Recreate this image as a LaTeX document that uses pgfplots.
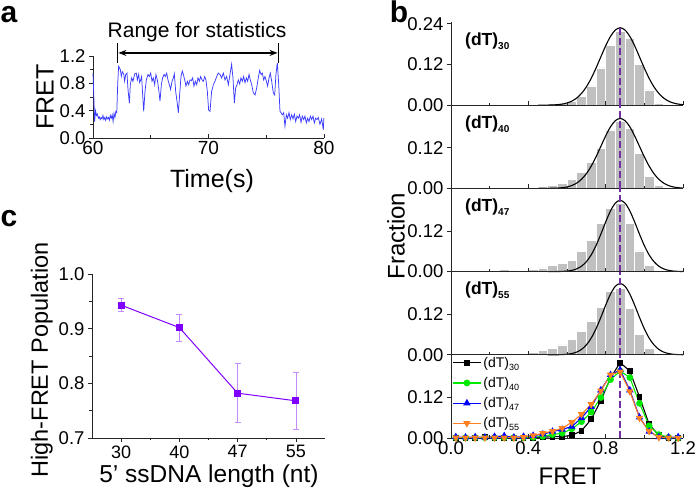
\documentclass[border=0pt]{standalone}
\usepackage{fontspec}
\setmainfont{Liberation Sans}
\usepackage{pgfplots}
\pgfplotsset{compat=1.18}
\usetikzlibrary{arrows.meta}
\definecolor{trace}{RGB}{60,60,255}
\definecolor{vio}{RGB}{128,0,255}
\definecolor{viol}{RGB}{195,140,255}
\definecolor{dashc}{RGB}{112,48,160}
\definecolor{histc}{RGB}{192,192,192}
\definecolor{grc}{RGB}{0,235,0}
\definecolor{blc}{RGB}{0,0,255}
\definecolor{orc}{RGB}{255,128,32}
\tikzset{plab/.style={anchor=base west, font=\fontsize{17.5}{18}\selectfont\bfseries}}
\pgfplotsset{
  base/.style={scale only axis, axis x line*=bottom, axis y line*=left,
    axis line style={-, line width=0.8pt, black!85},
    every tick/.style={black!85, line width=0.6pt},
    major tick length=4pt, minor tick length=2.5pt,
    /pgf/number format/assume math mode=true, clip=false},
  bpanel/.style={base, axis on top, width=232pt, height=83.2pt, xmin=0, xmax=1.2, ymin=0, ymax=0.245,
    xtick={0,0.4,0.8,1.2}, minor xtick={0.2,0.6,1.0}, ytick={0,0.12},
    xtick align=inside, ytick align=outside,
    yticklabel style={font=\fontsize{18.5}{18.5}\selectfont, /pgf/number format/fixed, /pgf/number format/fixed zerofill, /pgf/number format/precision=2},
    xticklabel style={font=\fontsize{18.5}{18.5}\selectfont, /pgf/number format/fixed, /pgf/number format/fixed zerofill, /pgf/number format/precision=1}},
  hbar/.style={ybar, bar width=0.05, fill=histc, draw=white, line width=0.6pt},
  gfit/.style={black, line width=1.1pt, smooth},
  dline/.style={dashc, line width=2.3pt, dash pattern=on 7pt off 3pt, forget plot},
}
\newcommand{\dT}[1]{(dT)\raisebox{-4pt}{\fontsize{10}{10}\selectfont #1}}
\newcommand{\dTl}[1]{(dT)\raisebox{-3pt}{\fontsize{9}{9}\selectfont #1}}
\begin{document}
\begin{tikzpicture}[x=1pt,y=1pt]
\useasboundingbox (0,0) rectangle (697,493);
% ---------------- panel a
\begin{axis}[base, at={(93pt,355pt)}, anchor=south west, width=231pt, height=82pt,
  xmin=60, xmax=80, ymin=0, ymax=1.2,
  xtick={60,70,80}, minor xtick={65,75}, ytick={0,0.4,0.8,1.2}, minor ytick={0.2,0.6,1.0},
  xtick align=inside, ytick align=outside,
  yticklabel style={font=\fontsize{18.5}{18.5}\selectfont, /pgf/number format/fixed, /pgf/number format/fixed zerofill, /pgf/number format/precision=1},
  xticklabel style={font=\fontsize{19}{19}\selectfont},
  xlabel={Time(s)}, ylabel={FRET},
  xlabel style={at={(axis description cs:0.515,-0.53)}, anchor=center, font=\fontsize{25}{25}\selectfont},
  ylabel style={at={(axis description cs:-0.208,0.5)}, anchor=center, font=\fontsize{25}{25}\selectfont},
]
\addplot[trace, line width=0.75pt] coordinates {
(60.00,0.95)(60.07,0.62)(60.14,0.24)(60.22,0.40)(60.30,0.33)(60.38,0.35)(60.46,0.29)(60.54,0.31)(60.62,0.27)(60.70,0.30)
(60.78,0.28)(60.86,0.33)(60.94,0.27)(61.02,0.30)(61.10,0.26)(61.18,0.31)(61.26,0.28)(61.34,0.30)(61.42,0.26)(61.50,0.33)
(61.58,0.29)(61.66,0.34)(61.74,0.24)(61.82,0.36)(61.90,0.30)(61.98,0.39)(62.06,0.37)(62.14,0.80)(62.22,1.05)
(62.37,1.00)(62.45,0.90)(62.54,0.97)(62.66,0.94)(62.74,0.83)(62.83,0.93)(62.94,0.95)(63.03,0.71)(63.15,0.51)(63.23,0.78)
(63.35,0.88)(63.46,0.83)(63.61,0.94)(63.75,0.95)(63.84,0.85)(63.95,0.93)(64.04,0.81)(64.13,0.85)(64.21,0.90)(64.30,0.63)
(64.39,0.39)(64.50,0.68)(64.62,0.85)(64.76,0.93)(64.88,0.90)(64.99,0.95)(65.11,0.83)(65.22,0.88)(65.34,0.78)(65.45,0.93)
(65.57,0.85)(65.69,0.71)(65.80,0.54)(65.92,0.78)(66.03,0.88)(66.15,0.93)(66.26,0.90)(66.38,0.95)(66.49,0.85)(66.61,0.78)
(66.72,0.71)(66.84,0.83)(66.96,0.88)(67.04,0.94)(67.16,0.68)(67.27,0.54)(67.39,0.37)(67.50,0.63)(67.62,0.90)(67.73,0.98)
(67.82,0.93)(67.94,0.85)(68.05,0.76)(68.17,0.83)(68.28,0.78)(68.40,0.85)(68.51,0.84)(68.63,0.88)(68.74,0.76)(68.86,0.83)
(68.98,0.78)(69.09,0.88)(69.21,0.83)(69.32,0.90)(69.44,0.85)(69.55,0.83)(69.67,0.90)(69.78,0.85)(69.90,0.68)(70.01,0.41)
(70.13,0.39)(70.27,0.68)(70.42,0.78)(70.56,0.83)(70.71,0.90)(70.85,0.95)(70.99,0.93)(71.14,0.88)(71.28,0.95)(71.43,0.85)
(71.57,0.90)(71.72,0.78)(71.86,0.93)(72.00,1.08)(72.12,0.88)(72.24,0.51)(72.35,0.73)(72.47,0.78)(72.58,0.85)(72.70,0.79)
(72.81,0.88)(72.93,0.83)(73.04,0.90)(73.16,0.81)(73.28,0.88)(73.39,0.83)(73.51,0.93)(73.62,0.85)(73.74,0.78)(73.88,0.66)
(74.03,0.63)(74.17,0.73)(74.31,0.88)(74.43,0.99)(74.55,0.93)(74.66,0.95)(74.78,0.85)(74.89,0.90)(75.01,0.83)(75.12,0.76)
(75.24,0.88)(75.35,0.95)(75.47,0.83)(75.61,0.66)(75.73,0.63)(75.84,0.93)(75.96,1.10)(76.08,0.78)(76.19,0.39)(76.28,0.37)
(76.39,0.34)(76.51,0.37)(76.62,0.17)(76.74,0.34)(76.85,0.29)(76.97,0.37)(77.08,0.27)(77.20,0.34)(77.32,0.28)(77.43,0.35)
(77.55,0.24)(77.66,0.32)(77.78,0.29)(77.89,0.34)(78.01,0.23)(78.12,0.32)(78.24,0.27)(78.35,0.32)(78.47,0.22)(78.59,0.29)
(78.70,0.24)(78.82,0.32)(78.93,0.27)(79.05,0.32)(79.16,0.22)(79.28,0.29)(79.39,0.27)(79.51,0.30)(79.65,0.20)(79.80,0.28)
(79.94,0.12)(79.99,0.29)};
\draw[line width=1.5pt, black] (axis cs:62.14,1.10) -- (axis cs:62.14,1.39);
\draw[line width=1.5pt, black] (axis cs:76.04,1.10) -- (axis cs:76.04,1.39);
\draw[line width=1.2pt, black, {Stealth[length=8pt,width=6pt]}-{Stealth[length=8pt,width=6pt]}] (axis cs:62.2,1.245) -- (axis cs:75.98,1.245);
\end{axis}
\node[font=\fontsize{21}{21}\selectfont] at (197,461) {Range for statistics};
% ---------------- panel c
\begin{axis}[base, at={(92pt,55pt)}, anchor=south west, width=233pt, height=164pt,
  xmin=-0.5, xmax=3.5, ymin=0.7, ymax=1.0,
  xtick={0,1,2,3}, xticklabels={30,40,47,55}, minor xtick={0.5,1.5,2.5},
  ytick={0.7,0.8,0.9,1.0}, minor ytick={0.75,0.85,0.95},
  tick align=outside,
  yticklabel style={font=\fontsize{18.5}{18.5}\selectfont, /pgf/number format/fixed, /pgf/number format/fixed zerofill, /pgf/number format/precision=1},
  xticklabel style={font=\fontsize{18}{18}\selectfont},
  xlabel={5' ssDNA length (nt)}, ylabel={High-FRET Population},
  xlabel style={at={(axis description cs:0.502,-0.232)}, anchor=center, font=\fontsize{24.5}{24.5}\selectfont},
  ylabel style={at={(axis description cs:-0.215,0.476)}, anchor=center, font=\fontsize{23.5}{23.5}\selectfont},
]
\addplot[vio, line width=1pt, mark=square*, mark size=3pt, mark options={fill=vio, draw=vio},
  error bars/.cd, y dir=both, y explicit, error bar style={viol, line width=0.7pt},
  error mark options={viol, rotate=90, mark size=3pt, line width=0.7pt}]
  coordinates {(0,0.943) +- (0,0.012) (1,0.902) +- (0,0.025) (2,0.782) +- (0,0.054) (3,0.768) +- (0,0.052)};
\end{axis}
% ---------------- panel b, (dT)30
\begin{axis}[bpanel, at={(451pt,387.8pt)}, anchor=south west, ytick={0,0.12,0.24}, xticklabels={}]
\addplot[hbar] coordinates {(0.175,0.002)(0.525,0.006)(0.575,0.006)(0.625,0.011)(0.675,0.025)(0.725,0.057)(0.775,0.110)(0.825,0.177)(0.875,0.218)(0.925,0.197)(0.975,0.120)(1.025,0.045)(1.075,0.006)};
\addplot[gfit] coordinates {(0.45,0)(0.475,0.0001)(0.5,0.0003)(0.525,0.0007)(0.55,0.0016)(0.575,0.0033)(0.6,0.0065)(0.625,0.0120)(0.65,0.0210)(0.675,0.0347)(0.7,0.0538)(0.725,0.0789)(0.75,0.1092)(0.775,0.1423)(0.8,0.1749)(0.825,0.2027)(0.85,0.2214)(0.875,0.228)(0.9,0.2214)(0.925,0.2027)(0.95,0.1749)(0.975,0.1423)(1.0,0.1092)(1.025,0.0789)(1.05,0.0538)(1.075,0.0347)(1.1,0.0210)(1.125,0.0120)(1.15,0.0065)(1.175,0.0033)(1.2,0.0016)};
\addplot[dline] coordinates {(0.875,0)(0.875,0.23)};
\node[plab] at (axis description cs:0.046,0.72) {\dT{30}};
\end{axis}
% ---------------- (dT)40
\begin{axis}[bpanel, at={(451pt,304.6pt)}, anchor=south west, xticklabels={}]
\addplot[hbar] coordinates {(0.425,0.002)(0.475,0.005)(0.525,0.010)(0.575,0.014)(0.625,0.027)(0.675,0.048)(0.725,0.076)(0.775,0.119)(0.825,0.172)(0.875,0.197)(0.925,0.178)(0.975,0.102)(1.025,0.036)(1.075,0.010)};
\addplot[gfit] coordinates {(0.45,0)(0.5,0.0002)(0.525,0.0004)(0.55,0.0009)(0.575,0.0021)(0.6,0.0043)(0.625,0.0085)(0.65,0.0156)(0.675,0.0268)(0.7,0.0432)(0.725,0.0654)(0.75,0.0928)(0.775,0.1237)(0.8,0.1546)(0.825,0.1813)(0.85,0.1995)(0.875,0.206)(0.9,0.1995)(0.925,0.1813)(0.95,0.1546)(0.975,0.1237)(1.0,0.0928)(1.025,0.0654)(1.05,0.0432)(1.075,0.0268)(1.1,0.0156)(1.125,0.0085)(1.15,0.0043)(1.175,0.0021)(1.2,0.0009)};
\addplot[dline] coordinates {(0.875,0)(0.875,0.245)};
\node[plab] at (axis description cs:0.046,0.72) {\dT{40}};
\end{axis}
% ---------------- (dT)47
\begin{axis}[bpanel, at={(451pt,221.4pt)}, anchor=south west, xticklabels={}]
\addplot[hbar] coordinates {(0.275,0.006)(0.325,0.002)(0.375,0.004)(0.425,0.007)(0.475,0.011)(0.525,0.019)(0.575,0.025)(0.625,0.034)(0.675,0.059)(0.725,0.092)(0.775,0.141)(0.825,0.186)(0.875,0.200)(0.925,0.141)(0.975,0.061)(1.025,0.019)};
\addplot[gfit] coordinates {(0.5,0)(0.525,0.0001)(0.55,0.0002)(0.575,0.0006)(0.6,0.0016)(0.625,0.0037)(0.65,0.0080)(0.675,0.0159)(0.7,0.0291)(0.725,0.0491)(0.75,0.0766)(0.775,0.1101)(0.8,0.1461)(0.825,0.1787)(0.85,0.2017)(0.875,0.21)(0.9,0.2017)(0.925,0.1787)(0.95,0.1461)(0.975,0.1101)(1.0,0.0766)(1.025,0.0491)(1.05,0.0291)(1.075,0.0159)(1.1,0.0080)(1.125,0.0037)(1.15,0.0016)(1.175,0.0006)(1.2,0.0002)};
\addplot[dline] coordinates {(0.875,0)(0.875,0.245)};
\node[plab] at (axis description cs:0.046,0.72) {\dT{47}};
\end{axis}
% ---------------- (dT)55
\begin{axis}[bpanel, at={(451pt,138.2pt)}, anchor=south west, xticklabels={}]
\addplot[hbar] coordinates {(0.375,0.002)(0.425,0.007)(0.475,0.014)(0.525,0.020)(0.575,0.029)(0.625,0.046)(0.675,0.070)(0.725,0.099)(0.775,0.139)(0.825,0.186)(0.875,0.195)(0.925,0.137)(0.975,0.059)(1.025,0.020)(1.075,0.002)};
\addplot[gfit] coordinates {(0.5,0)(0.525,0.0001)(0.55,0.0002)(0.575,0.0006)(0.6,0.0016)(0.625,0.0037)(0.65,0.0080)(0.675,0.0159)(0.7,0.0291)(0.725,0.0491)(0.75,0.0766)(0.775,0.1101)(0.8,0.1461)(0.825,0.1787)(0.85,0.2017)(0.875,0.21)(0.9,0.2017)(0.925,0.1787)(0.95,0.1461)(0.975,0.1101)(1.0,0.0766)(1.025,0.0491)(1.05,0.0291)(1.075,0.0159)(1.1,0.0080)(1.125,0.0037)(1.15,0.0016)(1.175,0.0006)(1.2,0.0002)};
\addplot[dline] coordinates {(0.875,0)(0.875,0.245)};
\node[plab] at (axis description cs:0.046,0.72) {\dT{55}};
\end{axis}
% ---------------- overlay
\begin{axis}[bpanel, at={(451pt,55pt)}, anchor=south west,
  xlabel={FRET},
  xlabel style={at={(axis description cs:0.513,-0.457)}, anchor=center, font=\fontsize{24}{24}\selectfont},
  legend style={at={(axis description cs:0.005,1.0)}, anchor=north west, draw=none, fill=none,
    font=\fontsize{14}{14}\selectfont, row sep=4.5pt, inner xsep=0pt, inner ysep=0pt},
  legend cell align=left,
  legend image code/.code={\draw[mark repeat=2, mark phase=2, #1] plot coordinates {(0pt,0pt) (14pt,0pt) (28pt,0pt)};},
]
\addplot[dline] coordinates {(0.875,0)(0.875,0.245)};
\addplot[black, line width=1.1pt, mark=square*, mark size=2.4pt] coordinates {
(0.025,0)(0.075,0)(0.125,0)(0.175,0.002)(0.225,0)(0.275,0)(0.325,0)(0.375,0)(0.425,0.001)(0.475,0.002)(0.525,0.004)(0.575,0.004)
(0.625,0.008)(0.675,0.021)(0.725,0.055)(0.775,0.110)(0.825,0.177)(0.875,0.222)(0.925,0.197)(0.975,0.121)(1.025,0.040)(1.075,0.008)(1.125,0.001)(1.175,0)};
\addlegendentry{\dTl{30}}
\addplot[grc, line width=1.1pt, mark=*, mark size=2.8pt] coordinates {
(0.025,0.001)(0.075,0.001)(0.125,0.001)(0.175,0.001)(0.225,0.001)(0.275,0.001)(0.325,0.001)(0.375,0.001)(0.425,0.002)(0.475,0.005)(0.525,0.010)(0.575,0.014)
(0.625,0.027)(0.675,0.048)(0.725,0.076)(0.775,0.119)(0.825,0.172)(0.875,0.197)(0.925,0.178)(0.975,0.102)(1.025,0.036)(1.075,0.010)(1.125,0.002)(1.175,0)};
\addlegendentry{\dTl{40}}
\addplot[blc, line width=1.1pt, mark=triangle*, mark size=3.2pt] coordinates {
(0.025,0.003)(0.075,0.002)(0.125,0.003)(0.175,0.002)(0.225,0.004)(0.275,0.006)(0.325,0.002)(0.375,0.004)(0.425,0.007)(0.475,0.011)(0.525,0.019)(0.575,0.025)
(0.625,0.034)(0.675,0.059)(0.725,0.092)(0.775,0.141)(0.825,0.186)(0.875,0.200)(0.925,0.141)(0.975,0.061)(1.025,0.019)(1.075,0.003)(1.125,0.002)(1.175,0.003)};
\addlegendentry{\dTl{47}}
\addplot[orc, line width=1.1pt, mark=triangle*, mark size=3.2pt, mark options={rotate=180}] coordinates {
(0.025,0.001)(0.075,0.001)(0.125,0.001)(0.175,0.001)(0.225,0.001)(0.275,0.001)(0.325,0.001)(0.375,0.002)(0.425,0.007)(0.475,0.014)(0.525,0.020)(0.575,0.029)
(0.625,0.046)(0.675,0.070)(0.725,0.099)(0.775,0.139)(0.825,0.186)(0.875,0.195)(0.925,0.137)(0.975,0.059)(1.025,0.020)(1.075,0.002)(1.125,0.001)(1.175,0)};
\addlegendentry{\dTl{55}}
\end{axis}
\node[rotate=90, font=\fontsize{24}{24}\selectfont] at (396,257) {Fraction};
\node[font=\fontsize{30}{30}\selectfont\bfseries] at (9,478) {a};
\node[font=\fontsize{30}{30}\selectfont\bfseries] at (399,481) {b};
\node[font=\fontsize{30}{30}\selectfont\bfseries] at (9,274) {c};
\end{tikzpicture}
\end{document}
